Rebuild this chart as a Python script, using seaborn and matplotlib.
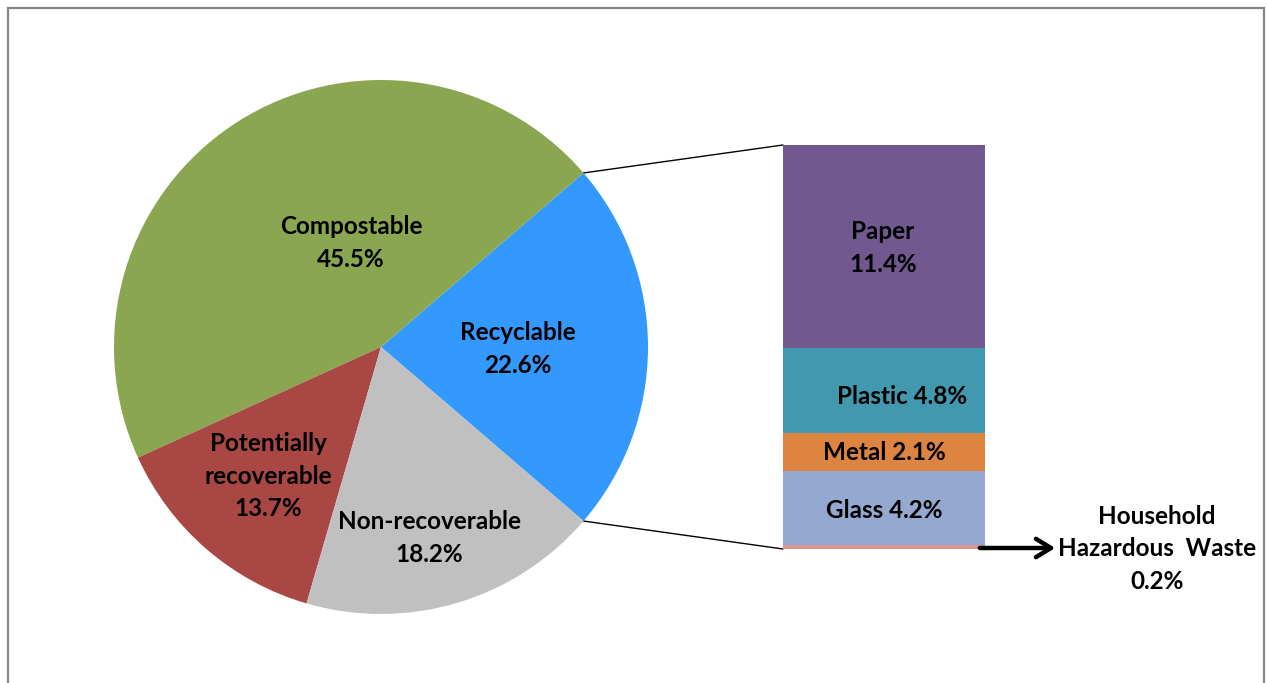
import numpy as np
import pandas as pd
import matplotlib
matplotlib.use("Agg")
import matplotlib.pyplot as plt
from matplotlib.patches import ConnectionPatch, Rectangle
import seaborn as sns

# ---- data ----
pie_labels = ["Recyclable", "Compostable", "Potentially\nrecoverable", "Non-recoverable"]
pie_values = [22.6, 45.5, 13.7, 18.2]
pie_colors = ["#3399FF", "#8BA650", "#A84744", "#C0C0C0"]

bar_labels = ["Household\nHazardous  Waste", "Glass", "Metal", "Plastic", "Paper"]  # bottom -> top
bar_values = [0.2, 4.2, 2.1, 4.8, 11.4]
bar_colors = ["#DA9694", "#95A9D0", "#DD8540", "#4198AF", "#71588F"]

sns.set_theme(style="white")
plt.rcParams['font.family'] = ['Lato', 'DejaVu Sans']

W, H = 1267, 683
fig = plt.figure(figsize=(W / 100, H / 100), dpi=100)
fig.patch.set_facecolor("white")

# ---- stacked bar (seaborn) ----
bx0, bx1, by0, by1 = 783, 985, 145, 549
bax = fig.add_axes([bx0 / W, 1 - by1 / H, (bx1 - bx0) / W, (by1 - by0) / H])
bax.set_zorder(1)
total = sum(bar_values)
cum = np.cumsum(bar_values)
for i in range(len(bar_values) - 1, -1, -1):
    df = pd.DataFrame({"x": ["r"], "y": [cum[i]]})
    sns.barplot(data=df, x="x", y="y", color=bar_colors[i], width=1.0,
                saturation=1, ax=bax, linewidth=0)
bax.set_xlim(-0.5, 0.5)
bax.set_ylim(0, total)
bax.axis("off")

# main axes in pixel coordinates (y up)
ax = fig.add_axes([0, 0, 1, 1])
ax.set_zorder(3)
ax.patch.set_alpha(0)
cx, cy, R = 381, H - 347, 267
start = -pie_values[0] * 3.6 / 2
wedges, _ = ax.pie(pie_values, colors=pie_colors, startangle=start, counterclock=True,
                   center=(cx, cy), radius=R, frame=True,
                   wedgeprops=dict(linewidth=0, edgecolor="white"))
ax.set_xlim(0, W)
ax.set_ylim(0, H)
ax.set_aspect("equal")
ax.axis("off")

txt = dict(ha="center", va="center", fontsize=17.5, fontweight="bold", color="#000000",
           linespacing=1.5)
pie_text_pos = [(518, 349), (351, 243), (268, 476), (429, 538)]
for lab, val, (x, y) in zip(pie_labels, pie_values, pie_text_pos):
    ax.text(x, H - y, f"{lab}\n{val}%", **txt)

seg_text = {"Paper": (883, 248, "Paper\n11.4%"),
            "Plastic": (902, 396, "Plastic 4.8%"),
            "Metal": (884, 452, "Metal 2.1%"),
            "Glass": (884, 510, "Glass 4.2%")}
for lab in bar_labels[1:]:
    x, y, s = seg_text[lab]
    ax.text(x, H - y, s, **txt)

# HHW annotation with arrow
ax.annotate("", xy=(1058, H - 548), xytext=(977, H - 548),
            arrowprops=dict(arrowstyle="->,head_length=0.9,head_width=0.55",
                            color="black", lw=3.2))
ax.text(1157, H - 549, f"{bar_labels[0]}\n{bar_values[0]}%", **txt)

# connection lines from pie wedge edges to bar corners
t1 = np.deg2rad(start)
t2 = np.deg2rad(start + pie_values[0] * 3.6)
p_top = (cx + R * np.cos(t2), cy + R * np.sin(t2))
p_bot = (cx + R * np.cos(t1), cy + R * np.sin(t1))
for p, yb in [(p_top, total), (p_bot, 0)]:
    con = ConnectionPatch(xyA=(-0.5, yb), coordsA=bax.transData,
                          xyB=p, coordsB=ax.transData, color="black", lw=1.0)
    fig.add_artist(con)

# outer frame
fig.add_artist(Rectangle((7.5 / W, -0.02), (1264 - 7.5) / W, (H - 7.5) / H + 0.02,
                         transform=fig.transFigure, fill=False,
                         edgecolor="#868686", linewidth=1.6))

fig.savefig("out.png", dpi=100)
